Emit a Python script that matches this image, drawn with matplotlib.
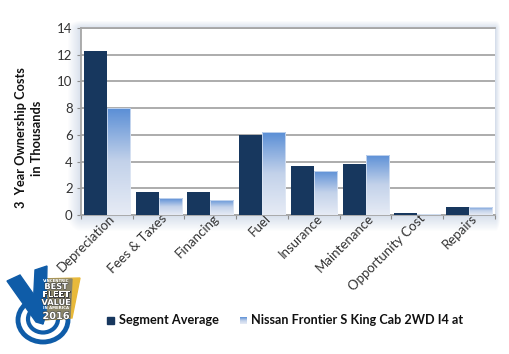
import numpy as np
import matplotlib
matplotlib.use("Agg")
import matplotlib.pyplot as plt
import matplotlib.patches as mpatches
import matplotlib.patheffects as pe
from matplotlib.colors import LinearSegmentedColormap
from matplotlib.transforms import ScaledTranslation

# ── Data ──────────────────────────────────────────────────────────────────
categories = ["Depreciation", "Fees & Taxes", "Financing", "Fuel", "Insurance",
              "Maintenance", "Opportunity Cost", "Repairs"]
segment_avg = [12.3, 1.75, 1.75, 6.0, 3.7, 3.85, 0.12, 0.6]
nissan = [8.0, 1.25, 1.15, 6.2, 3.3, 4.5, 0.05, 0.6]
series_names = ["Segment Average", "Nissan Frontier S King Cab 2WD I4 at"]

W, H = 510, 354
plt.rcParams['font.family'] = ['Lato', 'DejaVu Sans']
fig = plt.figure(figsize=(W / 100, H / 100), dpi=100, facecolor='white')


def fig_box(x0, y0, x1, y1):
    # pixel box (top-left origin) -> figure fractions
    return [x0 / W, 1 - y1 / H, (x1 - x0) / W, (y1 - y0) / H]


# ── Soft blue shadow left of and below the plot ───────────────────────────
bg = fig.add_axes([0, 0, 1, 1], zorder=0)
xx, yy = np.meshgrid(np.arange(60, 505), np.arange(15, 240))
dx = np.clip(81 - xx, 0, None) / 14
dy = np.clip(yy - 215, 0, None) / 16
dr = np.clip(xx - 495, 0, None) / 5
dt = np.clip(28 - yy, 0, None) / 8
glow = np.clip(1 - np.sqrt(dx**2 + dy**2 + dr**2 + dt**2), 0, 1) * 0.36
glow_cmap = LinearSegmentedColormap.from_list("glow", ["#ffffff", "#8fa6c8"])
bg.imshow(glow, extent=(60, 505, 240, 15), cmap=glow_cmap, vmin=0, vmax=1,
          aspect='auto', interpolation='bilinear')
bg.set_xlim(0, W)
bg.set_ylim(H, 0)
bg.axis('off')

# ── Chart ─────────────────────────────────────────────────────────────────
ax = fig.add_axes(fig_box(81, 28, 495, 215), zorder=1)
ax.set_facecolor('white')
x = np.arange(len(categories))
bar_w = 0.445

ax.bar(x - bar_w / 2, segment_avg, bar_w, color='#17375e', linewidth=0, zorder=3)

grad_cmap = LinearSegmentedColormap.from_list("grad", ["#e6ebf5", "#c3d2ea", "#5b8fd6"])
grad = np.linspace(1, 0, 100).reshape(-1, 1)
for xi, v in zip(x, nissan):
    rect = mpatches.Rectangle((xi, 0), bar_w, v, facecolor='none',
                              edgecolor='#e4ebf6', linewidth=0.5, zorder=4)
    ax.add_patch(rect)
    im = ax.imshow(grad, extent=(xi, xi + bar_w, 0, v), cmap=grad_cmap,
                   vmin=0, vmax=1, aspect='auto', zorder=3)
    im.set_clip_path(rect)

ax.set_xlim(-0.5, len(categories) - 0.5)
ax.set_ylim(0, 14)
ax.set_yticks(range(0, 15, 2))
ax.yaxis.grid(True, color='#a6a6a6', linewidth=1.3, zorder=1)
ax.set_axisbelow(True)
ax.spines['right'].set_visible(False)
for side in ['left', 'bottom', 'top']:
    ax.spines[side].set_color('#a6a6a6')
    ax.spines[side].set_linewidth(1.3)
ax.set_xticks(np.arange(len(categories) + 1) - 0.5, minor=True)
ax.set_xticks(x)
ax.tick_params(axis='x', which='major', length=0, pad=0)
ax.tick_params(axis='x', which='minor', length=3, color='#8c8c8c', width=0.8)
ax.tick_params(axis='y', length=3, color='#8c8c8c', width=0.8, labelsize=9.5,
               labelcolor='#333333', pad=3)
ax.set_xticklabels(categories, rotation=45, ha='right', rotation_mode='anchor',
                   fontsize=9.5, color='#333333')
# nudge the slanted labels up and to the right
nudge = ScaledTranslation(2 / 100, 3 / 100, fig.dpi_scale_trans)
for lab in ax.get_xticklabels():
    lab.set_transform(lab.get_transform() + nudge)

fig.text(29 / W, 1 - 138 / H, "3  Year Ownership Costs\nin Thousands", rotation=90,
         ha='center', va='center', fontsize=9.2, fontweight='bold', color='#111111',
         linespacing=1.45)

# ── Legend (kept manual to sit under the plot) ────────────────────────────
leg = fig.add_axes([0, 0, 1, 1], zorder=3)
leg.add_patch(mpatches.Rectangle((107.5, 317), 7, 7, color='#17375e'))
leg.text(119, 320, series_names[0], fontsize=9.2, fontweight='bold', va='center',
         color='#111111')
leg.imshow(grad, extent=(240, 247, 324, 317), cmap=grad_cmap, vmin=0, vmax=1,
           aspect='auto')
leg.text(251, 320, series_names[1], fontsize=9.1, fontweight='bold', va='center',
         color='#111111')
leg.set_xlim(0, W)
leg.set_ylim(H, 0)
leg.axis('off')

# ── Badge ─────────────────────────────────────────────────────────────────
blue = '#0f5ca8'
leg.add_patch(mpatches.Ellipse((43, 320), 50, 44, fc='none', ec=blue, lw=3.5, zorder=2))
leg.add_patch(mpatches.Ellipse((43, 319), 30, 27, fc='none', ec=blue, lw=3, zorder=2))
leg.add_patch(mpatches.Polygon([(38, 279), (80, 278), (72, 318), (41, 320)],
                               color='#e8b93a', zorder=3))
leg.add_patch(mpatches.Polygon([(38, 279), (72, 279), (70, 318), (41, 320)],
                               color='#8a8468', zorder=3))
leg.add_patch(mpatches.Polygon([(7, 281), (20, 275), (46, 312), (43, 324), (36, 322)],
                               color=blue, zorder=4))
leg.add_patch(mpatches.Polygon([(35, 270), (47, 266), (46, 312), (43, 324), (33, 310)],
                               color=blue, zorder=4))
outline = [pe.withStroke(linewidth=0.8, foreground='#3d3d3d')]
leg.text(56, 280.5, "VINCENTRIC", fontsize=2.8, color='white', ha='center', va='center',
         fontweight='bold', zorder=6, family='DejaVu Sans')
leg.text(56, 294.5, "BEST\nFLEET\nVALUE", fontsize=5.9, color='white', ha='center',
         va='center', fontweight='bold', zorder=6, family='DejaVu Sans',
         linespacing=0.85, path_effects=outline)
leg.text(56, 308, "IN AMERICA", fontsize=2.8, color='white', ha='center', va='center',
         fontweight='bold', zorder=6, family='DejaVu Sans')
leg.text(56, 316, "2016", fontsize=7, color='white', ha='center', va='center',
         fontweight='bold', zorder=6, family='DejaVu Sans', path_effects=outline)

plt.savefig("out.png", dpi=100, facecolor='white')
